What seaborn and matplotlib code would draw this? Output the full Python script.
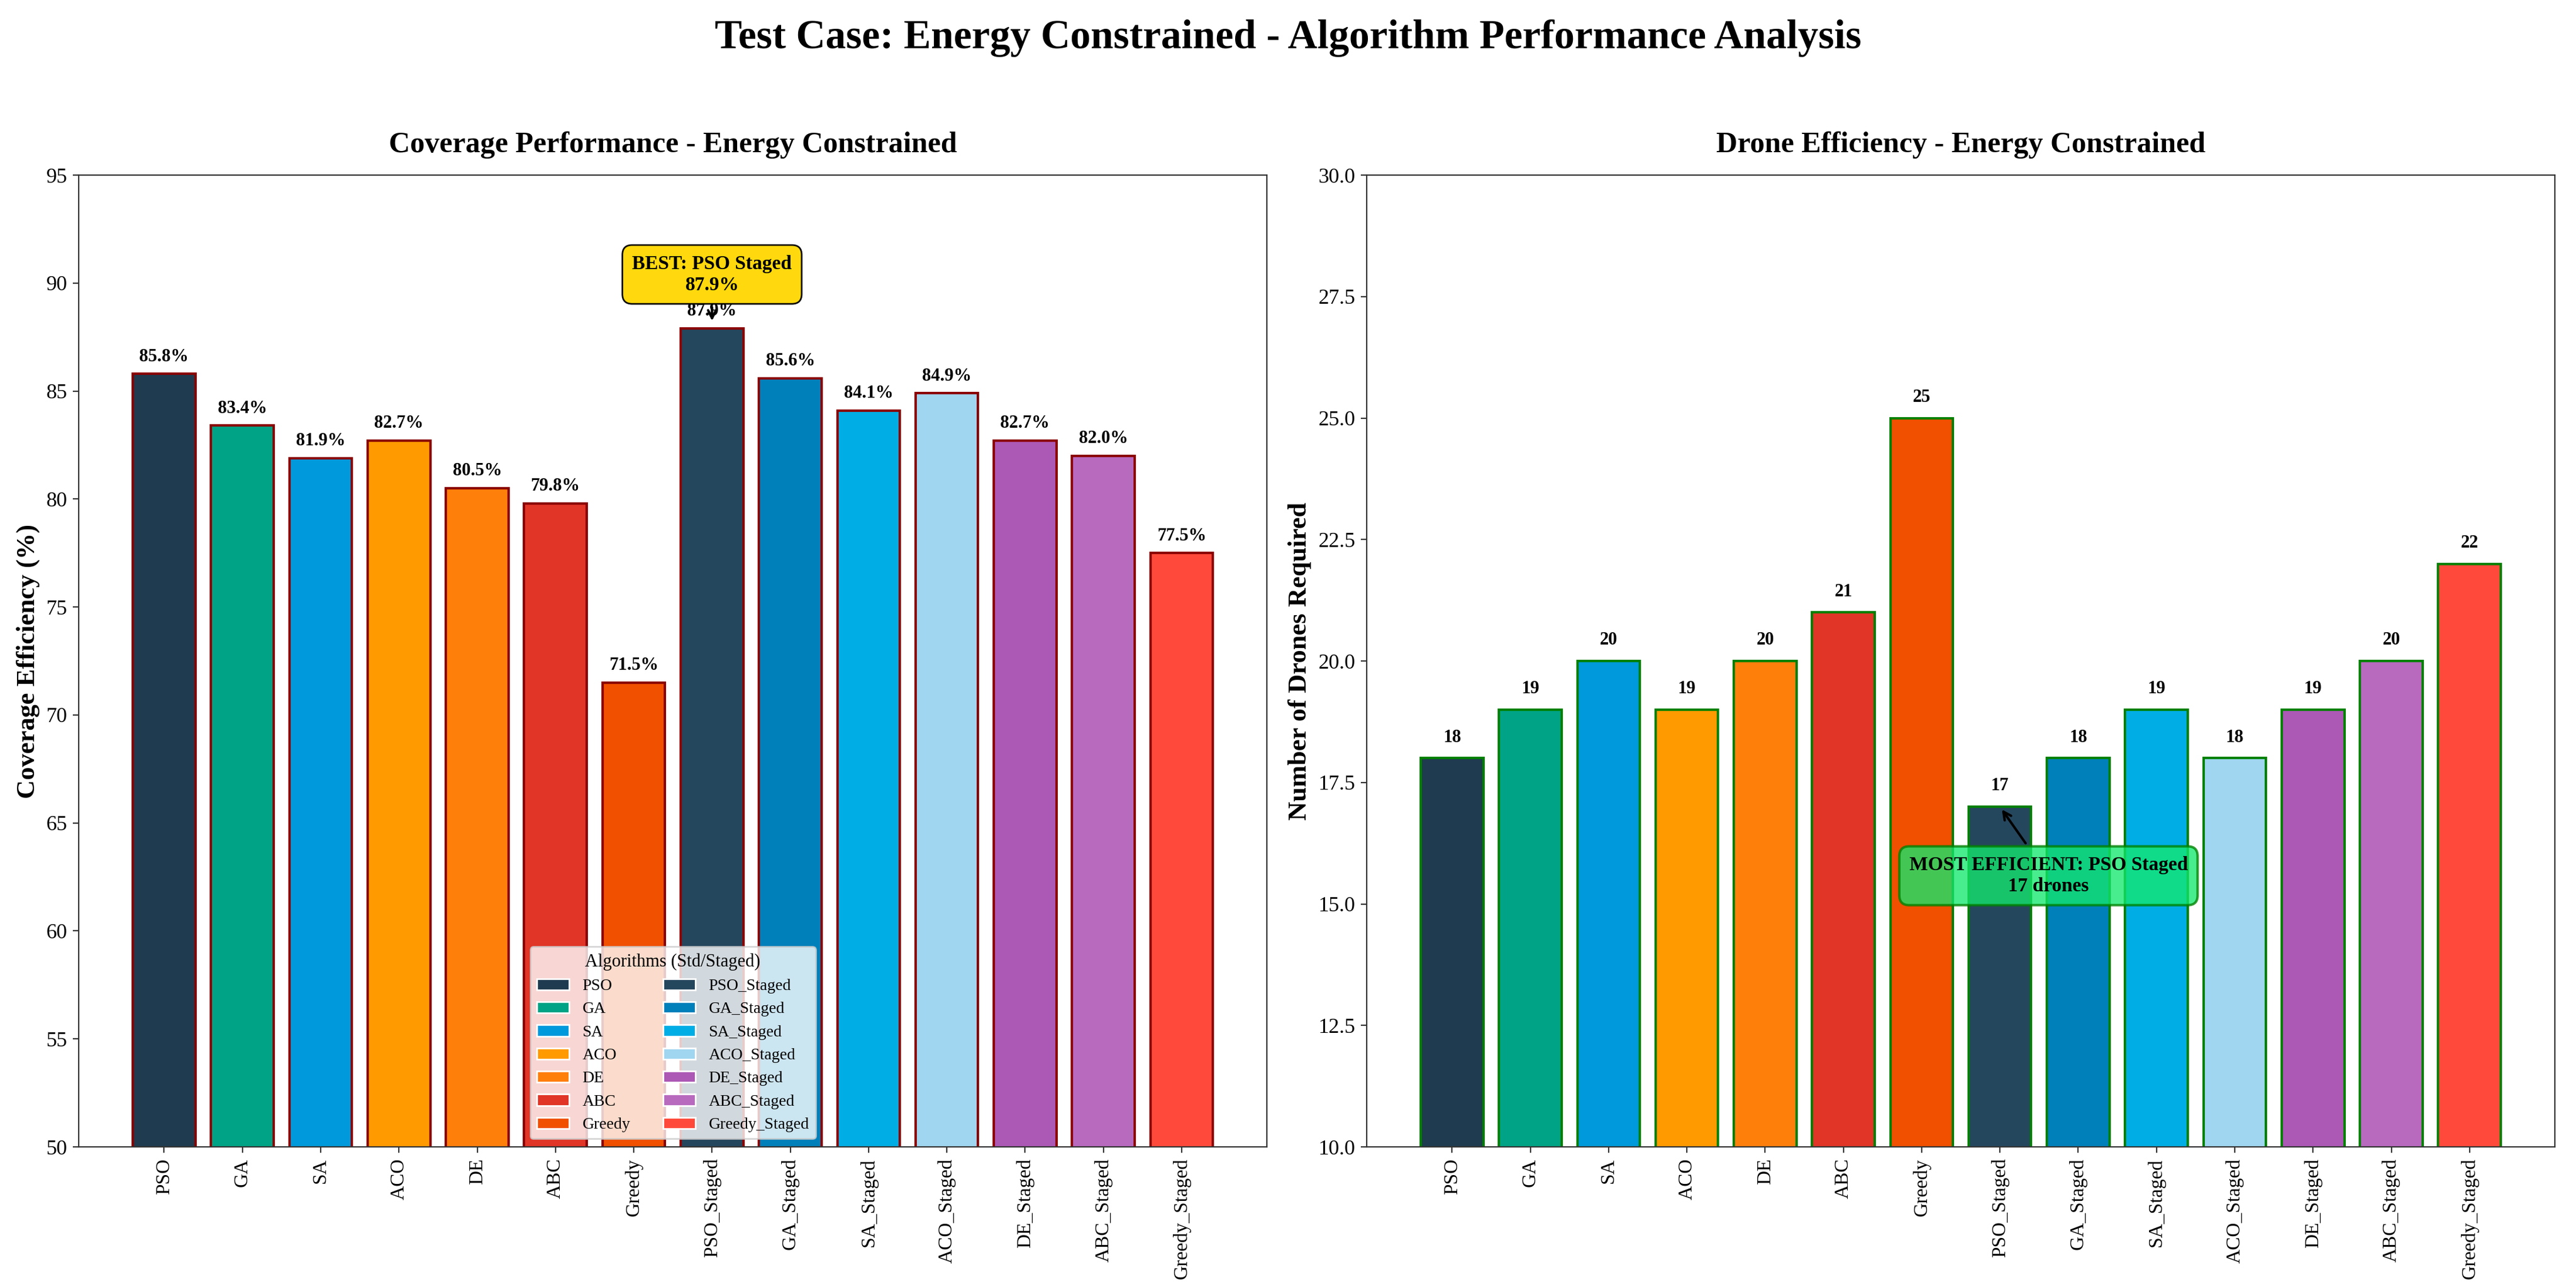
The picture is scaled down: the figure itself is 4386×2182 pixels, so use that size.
import pandas as pd
import matplotlib
matplotlib.use("Agg")
import matplotlib.pyplot as plt
import seaborn as sns
from matplotlib.patches import Patch

# -----------------------------
# Data
# -----------------------------
algorithms = ["PSO", "GA", "SA", "ACO", "DE", "ABC", "Greedy",
              "PSO_Staged", "GA_Staged", "SA_Staged", "ACO_Staged",
              "DE_Staged", "ABC_Staged", "Greedy_Staged"]

coverage = [85.8, 83.4, 81.9, 82.7, 80.5, 79.8, 71.5,
            87.9, 85.6, 84.1, 84.9, 82.7, 82.0, 77.5]

drones = [18, 19, 20, 19, 20, 21, 25,
          17, 18, 19, 18, 19, 20, 22]

bar_colors = ["#1f3b4f", "#00a385", "#0099db", "#ff9a00", "#ff7f0b", "#e03527", "#f05000",
              "#25475e", "#0080ba", "#00aee5", "#a0d6f0", "#ac58b5", "#b86abf", "#ff4a3b"]

case_name = "Energy Constrained"

df = pd.DataFrame({"Algorithm": algorithms,
                   "Coverage": coverage,
                   "Drones": drones})
palette = dict(zip(algorithms, bar_colors))

# -----------------------------
# Style
# -----------------------------
sns.set_style("ticks")
plt.rcParams["font.family"] = ["Liberation Serif", "DejaVu Serif"]
plt.rcParams["axes.edgecolor"] = "#333333"
plt.rcParams["text.color"] = "black"
plt.rcParams["axes.labelcolor"] = "black"
plt.rcParams["xtick.color"] = "#333333"
plt.rcParams["ytick.color"] = "#333333"
plt.rcParams["xtick.labelcolor"] = "black"
plt.rcParams["ytick.labelcolor"] = "black"

fig, (ax1, ax2) = plt.subplots(1, 2, figsize=(21.93, 10.91), dpi=200)
fig.subplots_adjust(left=0.0306, right=0.9918, bottom=0.1054, top=0.8634, wspace=0.084)

n = len(algorithms)

# -----------------------------
# Coverage plot
# -----------------------------
sns.barplot(data=df, x="Algorithm", y="Coverage", hue="Algorithm",
            palette=palette, saturation=1, dodge=False, legend=False,
            edgecolor="darkred", linewidth=1.5, width=0.8, ax=ax1)

for i, v in enumerate(coverage):
    ax1.text(i, v + 0.4, f"{v:.1f}%", ha="center", va="bottom",
             fontsize=11, fontweight="bold")

ax1.set_ylim(50, 95)
ax1.set_xlim(-1.09, n - 1 + 1.09)
ax1.set_title(f"Coverage Performance - {case_name}", fontsize=18,
              fontweight="bold", pad=14)
ax1.set_ylabel("Coverage Efficiency (%)", fontsize=16, fontweight="bold")
ax1.set_xlabel("")
ax1.tick_params(axis="x", rotation=90, labelsize=12)
ax1.tick_params(axis="y", labelsize=13)

best_idx = coverage.index(max(coverage))
ax1.annotate(f"BEST: {algorithms[best_idx].replace('_', ' ')}\n{coverage[best_idx]:.1f}%",
             xy=(best_idx, coverage[best_idx] + 0.2),
             xytext=(best_idx, coverage[best_idx] + 2.5),
             ha="center", va="center", fontsize=12, fontweight="bold",
             bbox=dict(boxstyle="round,pad=0.5", facecolor="#ffd700",
                       edgecolor="black", alpha=0.95),
             arrowprops=dict(arrowstyle="->", color="black", lw=1.5))

handles = [Patch(facecolor=c, label=a) for a, c in zip(algorithms, bar_colors)]
leg = ax1.legend(handles=handles, ncol=2, loc="lower center", fontsize=10,
                 title="Algorithms (Std/Staged)", title_fontsize=11,
                 frameon=True, framealpha=0.8, fancybox=True)
leg.get_frame().set_facecolor("white")

# -----------------------------
# Drone count plot
# -----------------------------
sns.barplot(data=df, x="Algorithm", y="Drones", hue="Algorithm",
            palette=palette, saturation=1, dodge=False, legend=False,
            edgecolor="green", linewidth=1.5, width=0.8, ax=ax2)

for i, v in enumerate(drones):
    ax2.text(i, v + 0.25, f"{v}", ha="center", va="bottom",
             fontsize=11, fontweight="bold")

ax2.set_ylim(10, 30)
ax2.set_xlim(-1.09, n - 1 + 1.09)
ax2.set_title(f"Drone Efficiency - {case_name}", fontsize=18,
              fontweight="bold", pad=14)
ax2.set_ylabel("Number of Drones Required", fontsize=16, fontweight="bold")
ax2.set_xlabel("")
ax2.tick_params(axis="x", rotation=90, labelsize=12)
ax2.tick_params(axis="y", labelsize=13)

eff_idx = drones.index(min(drones))
ax2.annotate(f"MOST EFFICIENT: {algorithms[eff_idx].replace('_', ' ')}\n{drones[eff_idx]} drones",
             xy=(eff_idx, drones[eff_idx]),
             xytext=(eff_idx + 0.62, drones[eff_idx] - 1.42),
             ha="center", va="center", fontsize=12, fontweight="bold",
             bbox=dict(boxstyle="round,pad=0.5", facecolor="#14e86e",
                       edgecolor="green", linewidth=1.5, alpha=0.78),
             arrowprops=dict(arrowstyle="->", color="black", lw=1.5))

fig.suptitle(f"Test Case: {case_name} - Algorithm Performance Analysis",
             fontsize=25, fontweight="bold", y=0.985)

plt.savefig("out.png", dpi=200)
